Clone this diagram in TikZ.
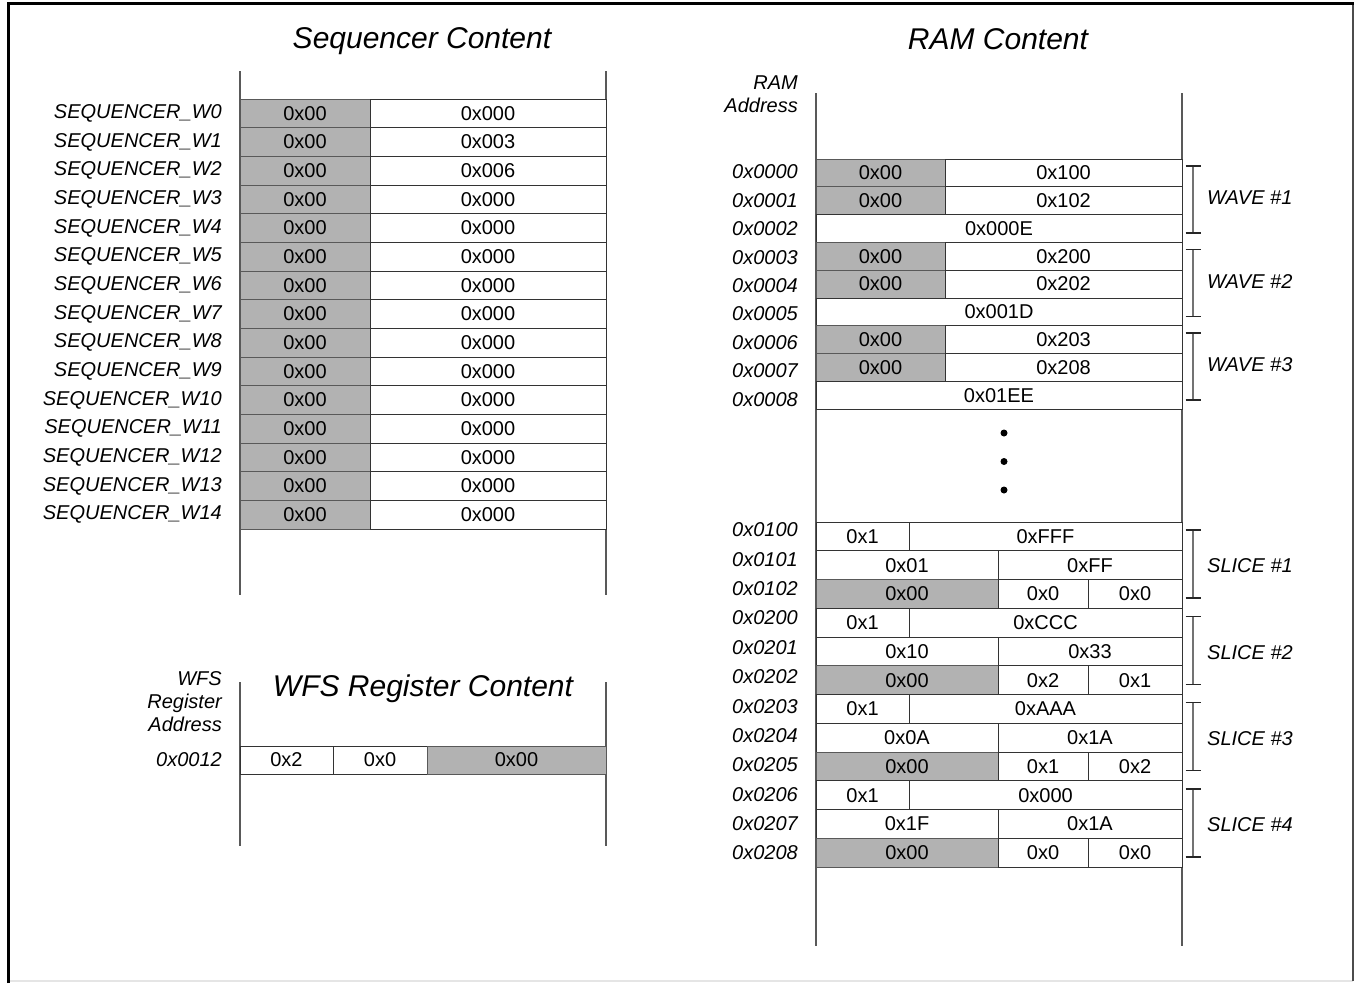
\documentclass[tikz,border=0pt]{standalone}
\usepackage{fontspec}
\setmainfont{Liberation Sans}
\usetikzlibrary{calc}

\begin{document}
\begin{tikzpicture}[x=1pt,y=-1pt,
  cell/.style={font=\fontsize{20}{24}\selectfont,draw=black!80,line width=1pt,fill=white,
    inner sep=0pt,outer sep=0pt,anchor=north west,minimum height=28.67pt},
  gcell/.style={cell,fill=black!30,draw=black!65},
  lbl/.style={font=\fontsize{20}{23}\selectfont\itshape,anchor=east,align=right,inner sep=0pt},
  ttl/.style={font=\fontsize{30}{36}\selectfont\itshape},
  rail/.style={draw=black!65,line width=1.2pt},
  brk/.style={draw=black!55,line width=1.5pt},
  tick/.style={draw=black!85,line width=1.5pt},
  dot/.style={circle,fill=black,inner sep=0pt,minimum size=7pt}]
\useasboundingbox (0,0) rectangle (1355,983);
% frame
\draw[black!10,line width=2pt] (8,981) -- (1353,981);
\draw[black!70,line width=2pt] (1353,3) -- (1353,981);
\draw[line width=3pt] (8,983) -- (8,3) -- (1354,3);

% sequencer
\node[ttl] (seqt) at (422,41) {Sequencer Content};
\draw[rail] (240,71) -- (240,595); \draw[rail] (606,71) -- (606,595);
\foreach \v [count=\i from 0] in {0x000,0x003,0x006,0x000,0x000,0x000,0x000,0x000,0x000,0x000,0x000,0x000,0x000,0x000,0x000} {
  \node[gcell,minimum width=130pt] (sqa\i) at (240,{99+28.67*\i}) {0x00};
  \node[cell,minimum width=236pt] (sqb\i) at (sqa\i.north east) {\v};
  \node[lbl] (sql\i) at ([xshift=-18pt]sqa\i.west) {SEQUENCER\_W\i};
}

% wfs register
\node[ttl] (wfst) at (423,689) {WFS Register Content};
\draw[rail] (240,682) -- (240,846); \draw[rail] (606,682) -- (606,846);
\node[lbl] (wfsh) at (222,702) {WFS\\Register\\Address};
\node[cell,minimum width=93pt,minimum height=28pt] (wfa) at (240,746) {0x2};
\node[cell,minimum width=94pt,minimum height=28pt] (wfb) at (wfa.north east) {0x0};
\node[gcell,minimum width=179pt,minimum height=28pt] (wfc) at (wfb.north east) {0x00};
\node[lbl] (wfl) at ([xshift=-18pt]wfa.west) {0x0012};

% ram
\node[ttl] (ramt) at (998,39) {RAM Content};
\node[lbl] (ramh) at (798,94) {RAM\\Address};
\draw[rail] (816,93) -- (816,946); \draw[rail] (1182,93) -- (1182,946);
\foreach \wa/\wb/\wc [count=\n] in {0x100/0x102/0x000E,0x200/0x202/0x001D,0x203/0x208/0x01EE} {
  \pgfmathsetmacro\yt{159+83.4*(\n-1)}
  \node[gcell,minimum width=129pt,minimum height=27.8pt] (wa\n) at (816,\yt) {0x00};
  \node[cell,minimum width=237pt,minimum height=27.8pt] (wb\n) at (wa\n.north east) {\wa};
  \node[gcell,minimum width=129pt,minimum height=27.8pt] (wc\n) at (wa\n.south west) {0x00};
  \node[cell,minimum width=237pt,minimum height=27.8pt] (wd\n) at (wc\n.north east) {\wb};
  \node[cell,minimum width=366pt,minimum height=27.8pt] (we\n) at (wc\n.south west) {\wc};
  \coordinate (wt\n) at (1193,{\yt+7});
  \coordinate (wz\n) at (1193,{\yt+74});
  \draw[brk] (wt\n) -- (wz\n);
  \draw[tick] ([xshift=-7.5pt]wt\n) -- ([xshift=7.5pt]wt\n);
  \draw[tick] ([xshift=-7.5pt]wz\n) -- ([xshift=7.5pt]wz\n);
  \node[lbl,anchor=west] (wl\n) at (1207,{\yt+39}) {WAVE \#\n};
}
\foreach \a [count=\i from 0] in {0000,0001,0002,0003,0004,0005,0006,0007,0008}
  \node[lbl] (rw\i) at (798,{172+28.4*\i}) {0x\a};
% gap
\foreach \j in {0,1,2}
  \node[dot] (gd\j) at (1004,{433+28.5*\j}) {};
% slices
\foreach \sb/\sc/\sd/\se/\sf [count=\n] in {0xFFF/0x01/0xFF/0x0/0x0,0xCCC/0x10/0x33/0x2/0x1,0xAAA/0x0A/0x1A/0x1/0x2,0x000/0x1F/0x1A/0x0/0x0} {
  \pgfmathsetmacro\yt{522+86.25*(\n-1)}
  \node[cell,minimum width=93pt,minimum height=28.75pt] (sa\n) at (816,\yt) {0x1};
  \node[cell,minimum width=273pt,minimum height=28.75pt] (sb\n) at (sa\n.north east) {\sb};
  \node[cell,minimum width=182pt,minimum height=28.75pt] (sc\n) at (sa\n.south west) {\sc};
  \node[cell,minimum width=184pt,minimum height=28.75pt] (sd\n) at (sc\n.north east) {\sd};
  \node[gcell,minimum width=182pt,minimum height=28.75pt] (sg\n) at (sc\n.south west) {0x00};
  \node[cell,minimum width=90pt,minimum height=28.75pt] (se\n) at (sg\n.north east) {\se};
  \node[cell,minimum width=94pt,minimum height=28.75pt] (sf\n) at (se\n.north east) {\sf};
  \coordinate (st\n) at (1193,{\yt+8});
  \coordinate (sz\n) at (1193,{\yt+76});
  \draw[brk] (st\n) -- (sz\n);
  \draw[tick] ([xshift=-7.5pt]st\n) -- ([xshift=7.5pt]st\n);
  \draw[tick] ([xshift=-7.5pt]sz\n) -- ([xshift=7.5pt]sz\n);
  \node[lbl,anchor=west] (sl\n) at (1207,{\yt+44}) {SLICE \#\n};
}
\foreach \a [count=\i from 0] in {0100,0101,0102,0200,0201,0202,0203,0204,0205,0206,0207,0208}
  \node[lbl] (rs\i) at (798,{530+29.36*\i}) {0x\a};
\end{tikzpicture}
\end{document}
